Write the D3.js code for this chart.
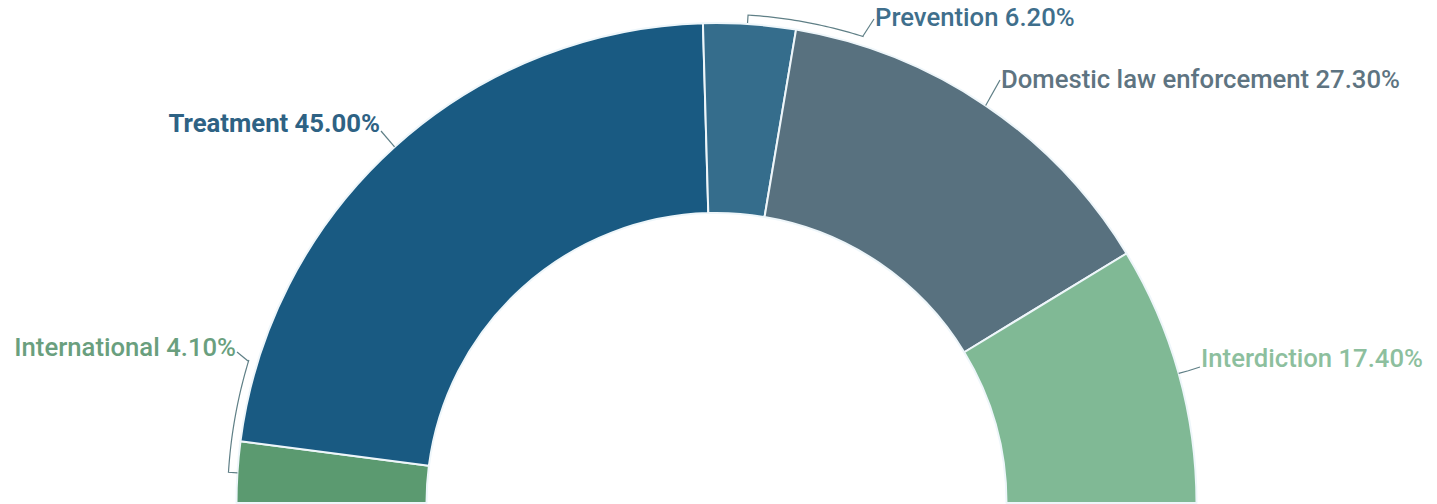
<!DOCTYPE html>
<html><head><meta charset="utf-8">
<script src="https://cdn.jsdelivr.net/npm/d3@7"></script>
<style>html,body{margin:0;padding:0;background:#fff;}svg{display:block;}</style>
</head><body>
<svg id="chart" width="1437" height="504"></svg>
<script>
const categories = ["International", "Treatment", "Prevention", "Domestic law enforcement", "Interdiction"];
const values = [4.10, 45.00, 6.20, 27.30, 17.40];
const colors = ["#5b9a70", "#195a82", "#356d8c", "#58717f", "#80b995"];
const textColors = ["#6a9f7e", "#2e6284", "#3f6f8c", "#5e7481", "#8dbf9e"];

const svg = d3.select("#chart");
const cx = 716.5, cy = 503, rOuter = 480, rInner = 290;
const g = svg.append("g").attr("transform", `translate(${cx},${cy})`);

const data = categories.map((c, i) => ({name: c, value: values[i], color: colors[i], tcolor: textColors[i]}));
const pie = d3.pie().value(d => d.value).sort(null).startAngle(-Math.PI/2).endAngle(Math.PI/2);
const arcs = pie(data);
const arc = d3.arc().innerRadius(rInner).outerRadius(rOuter);

g.selectAll("path.slice").data(arcs).enter().append("path")
  .attr("class", "slice")
  .attr("d", arc)
  .attr("fill", d => d.data.color)
  .attr("stroke", "#eef6fa").attr("stroke-width", 2).attr("stroke-linejoin", "round");

function pt(angle, r) { return [Math.sin(angle) * r, -Math.cos(angle) * r]; }
const deg = Math.PI / 180;
const lineColor = "#5f7f86";

const labelStyle = {
  "International": {type: "bracket", a0: -86.4, a1: -73, r: 489, tick: 9, text: [236, 356], anchor: "end", conn: [[248, 361], [237, 352]]},
  "Prevention": {type: "bracket", a0: 3.7, a1: 17.5, r: 489, tick: 8, text: [875, 26], anchor: "start", conn: [[863, 36], [874, 19]]},
  "Treatment": {type: "radial", text: [380, 132], anchor: "end", end: [381, 131]},
  "Domestic law enforcement": {type: "radial", text: [1001, 88], anchor: "start", end: [1000, 80]},
  "Interdiction": {type: "radial", text: [1201, 367], anchor: "start", elbow: true}
};

arcs.forEach(a => {
  const s = labelStyle[a.data.name];
  const mid = (a.startAngle + a.endAngle) / 2;
  const lg = svg.append("g");
  if (s.type === "radial") {
    const p1 = pt(mid, rOuter);
    let pts = [[p1[0] + cx, p1[1] + cy]];
    if (s.elbow) {
      const p2 = pt(mid, rOuter + 10);
      pts.push([p2[0] + cx, p2[1] + cy]);
      pts.push([s.text[0] - 1, s.text[1]]);
    } else {
      pts.push(s.end);
    }
    lg.append("path").attr("d", d3.line()(pts)).attr("fill", "none")
      .attr("stroke", lineColor).attr("stroke-width", 1.2);
  } else {
    const a0 = s.a0 * deg, a1 = s.a1 * deg;
    const pAi = pt(a0, s.r - s.tick);
    const n = 30, arcPts = [];
    for (let i = 0; i <= n; i++) { const t = a0 + (a1 - a0) * i / n; const p = pt(t, s.r); arcPts.push([p[0] + cx, p[1] + cy]); }
    const pts = [[pAi[0] + cx, pAi[1] + cy]].concat(arcPts);
    lg.append("path").attr("d", d3.line()(pts)).attr("fill", "none")
      .attr("stroke", lineColor).attr("stroke-width", 1.2);
    lg.append("path").attr("d", d3.line()(s.conn)).attr("fill", "none")
      .attr("stroke", lineColor).attr("stroke-width", 1.2);
  }
  lg.append("text")
    .attr("x", s.text[0]).attr("y", s.text[1])
    .attr("text-anchor", s.anchor)
    .attr("font-family", "Roboto, 'Open Sans', sans-serif")
    .attr("font-size", 25.7).attr("font-weight", a.data.name === "Treatment" ? 700 : 500)
    .attr("fill", a.data.tcolor)
    .text(`${a.data.name} ${a.data.value.toFixed(2)}%`);
});
</script>
</body></html>
